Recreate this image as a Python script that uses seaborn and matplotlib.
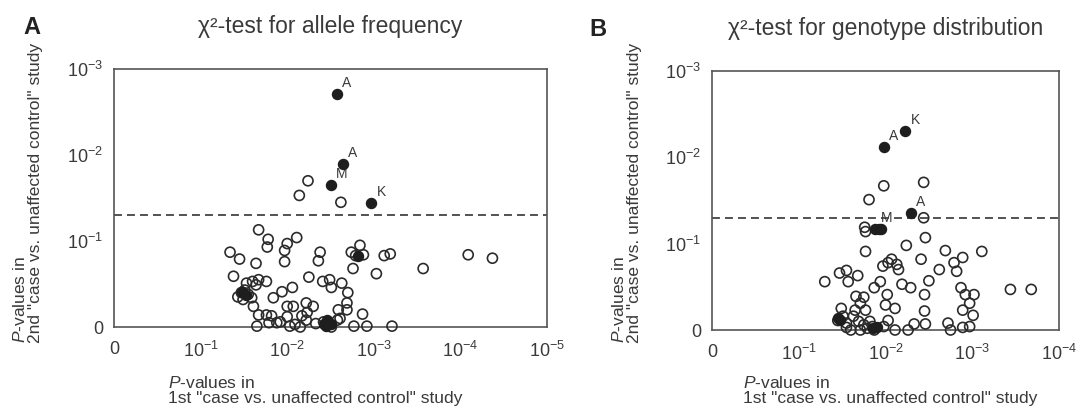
import numpy as np
import pandas as pd
import matplotlib
matplotlib.use('Agg')
import matplotlib.pyplot as plt
import seaborn as sns

sns.set_style('white')
plt.rcParams['font.family'] = ['Liberation Sans', 'DejaVu Sans']
plt.rcParams['mathtext.fontset'] = 'custom'
plt.rcParams['mathtext.rm'] = 'Liberation Sans'
plt.rcParams['mathtext.it'] = 'Liberation Sans:italic'
plt.rcParams['mathtext.bf'] = 'Liberation Sans:bold'

ink = '#3a3a3a'
line_col = '#555555'

# values are -log10(P): 0 = P of 1, 1 = 10^-1, ...
# panel A: allele frequency
a_open_x = [2.14, 2.24, 2.62,
            1.67, 1.78, 1.77, 2.00, 2.11, 1.97,
            1.34, 1.45, 1.64, 1.97,
            2.38, 2.36, 2.74, 2.84, 2.79, 2.88, 2.76,
            3.12, 3.19, 3.03, 3.57, 4.09, 4.37,
            1.38, 2.25,
            2.41, 2.49, 2.51, 2.63, 2.70, 2.69, 2.69, 2.59, 2.61, 2.87,
            2.77, 2.92, 3.21,
            1.53, 1.60, 1.67, 1.76, 1.64,
            1.43, 1.47, 1.51, 1.55, 1.49, 1.59,
            1.61, 1.67, 1.65, 1.76, 1.82,
            1.84, 1.94, 2.06,
            2.00, 2.07, 2.22, 2.30, 2.17, 2.00, 2.23,
            1.92, 1.79, 1.88, 2.03, 2.15, 2.22, 2.33, 2.42, 2.58, 2.51, 2.09]
a_open_y = [1.53, 1.70, 1.45,
            1.13, 1.02, 0.93, 0.97, 1.04, 0.89,
            0.87, 0.79, 0.74, 0.76,
            0.87, 0.77, 0.87, 0.95, 0.83, 0.84, 0.68,
            0.83, 0.85, 0.62, 0.68, 0.84, 0.80,
            0.59, 0.58,
            0.53, 0.55, 0.46, 0.51, 0.40, 0.28, 0.20, 0.20, 0.10, 0.15,
            0.01, 0.01, 0.01,
            0.51, 0.53, 0.55, 0.53, 0.49,
            0.35, 0.40, 0.43, 0.38, 0.32, 0.34,
            0.24, 0.14, 0.01, 0.14, 0.13,
            0.34, 0.41, 0.46,
            0.24, 0.24, 0.28, 0.24, 0.13, 0.12, 0.17,
            0.06, 0.05, 0.05, 0.01, 0.00, 0.08, 0.04, 0.06, 0.08, 0.00, 0.03]
a_fill_x = [2.42, 2.46, 2.50, 2.45, 1.48, 1.52, 2.82]
a_fill_y = [0.04, 0.08, 0.03, 0.01, 0.41, 0.37, 0.82]
a_lab_x = [2.57, 2.64, 2.50, 2.97]
a_lab_y = [2.71, 1.89, 1.65, 1.44]
a_lab = ['A', 'A', 'M', 'K']

# panel B: genotype distribution
b_open_x = [1.98, 2.44, 1.81, 2.44, 1.77, 1.76,
            2.46, 2.24, 1.77, 2.69, 3.11, 2.41, 2.89, 2.79, 2.82, 2.62,
            2.07, 2.13, 1.97, 2.03, 2.15, 1.94, 1.87, 2.19, 2.29, 2.50,
            2.45, 2.87, 2.92, 3.02, 2.97, 2.89, 3.01, 2.45, 2.46, 2.33,
            2.72, 2.75, 2.89, 2.97,
            3.44, 3.68,
            1.30, 1.47, 1.55, 1.57, 1.68,
            2.02, 2.00, 2.11, 2.03, 2.11, 2.26, 1.98,
            1.49, 1.51, 1.45, 1.55, 1.55, 1.66, 1.75, 1.71, 1.77, 1.65,
            1.63, 1.69, 1.75, 1.71, 1.79, 1.85, 1.87, 1.82, 1.60]
b_open_y = [1.67, 1.71, 1.51, 1.30, 1.14, 1.19,
            1.07, 0.98, 0.91, 0.92, 0.91, 0.82, 0.84, 0.78, 0.68, 0.70,
            0.82, 0.76, 0.74, 0.78, 0.70, 0.56, 0.49, 0.53, 0.49, 0.57,
            0.41, 0.49, 0.41, 0.41, 0.31, 0.23, 0.17, 0.22, 0.07, 0.07,
            0.08, 0.00, 0.03, 0.04,
            0.47, 0.47,
            0.56, 0.66, 0.69, 0.56, 0.63,
            0.41, 0.29, 0.25, 0.11, 0.00, 0.00, 0.04,
            0.25, 0.16, 0.11, 0.08, 0.03, 0.39, 0.38, 0.31, 0.23, 0.23,
            0.16, 0.10, 0.06, 0.00, 0.02, 0.04, 0.00, 0.10, 0.00]
b_fill_x = [1.92, 1.95, 1.45, 1.48, 1.86, 1.90]
b_fill_y = [1.17, 1.17, 0.14, 0.12, 0.02, 0.03]
b_lab_x = [1.98, 2.23, 2.29, 1.88]
b_lab_y = [2.12, 2.30, 1.35, 1.17]
b_lab = ['A', 'K', 'A', 'M']

p_cut = 0.05
a_ticks = ['0', '10$^{-1}$', '10$^{-2}$', '10$^{-3}$', '10$^{-4}$', '10$^{-5}$']
b_ticks = ['0', '10$^{-1}$', '10$^{-2}$', '10$^{-3}$', '10$^{-4}$']
y_ticks = ['0', '10$^{-1}$', '10$^{-2}$', '10$^{-3}$']

ylab = '$\\it{P}$-values in\n2nd "case vs. unaffected control" study'
xlab = '$\\it{P}$-values in\n1st "case vs. unaffected control" study'

fig = plt.figure(figsize=(10.84, 4.11), dpi=100)
W, H = 1084, 411

panels = [
    dict(box=(114, 69, 547, 327), ox=a_open_x, oy=a_open_y, fx=a_fill_x, fy=a_fill_y,
         lx=a_lab_x, ly=a_lab_y, lt=a_lab, xt=a_ticks, letter='A', lpos=(32, 28),
         title='χ²-test for allele frequency', ylx=28, xlx=168),
    dict(box=(712, 71, 1059, 330), ox=b_open_x, oy=b_open_y, fx=b_fill_x, fy=b_fill_y,
         lx=b_lab_x, ly=b_lab_y, lt=b_lab, xt=b_ticks, letter='B', lpos=(598, 29),
         title='χ²-test for genotype distribution', ylx=626, xlx=743),
]

for p in panels:
    x0, y0, x1, y1 = p['box']
    ax = fig.add_axes([x0 / W, 1 - y1 / H, (x1 - x0) / W, (y1 - y0) / H])
    df_open = pd.DataFrame({'x': p['ox'], 'y': p['oy']})
    df_fill = pd.DataFrame({'x': p['fx'] + p['lx'], 'y': p['fy'] + p['ly']})
    sns.scatterplot(data=df_open, x='x', y='y', ax=ax, marker='o', s=52,
                    facecolor='none', edgecolor='#2b2b2b', linewidth=1.2, clip_on=False, zorder=3)
    sns.scatterplot(data=df_fill, x='x', y='y', ax=ax, marker='o', s=52,
                    color='#1e1e1e', edgecolor='#1e1e1e', linewidth=1.0, clip_on=False, zorder=4)
    for xx, yy, tt in zip(p['lx'], p['ly'], p['lt']):
        ax.annotate(tt, (xx, yy), xytext=(4, 3), textcoords='offset points',
                    ha='left', va='bottom', fontsize=10, color=ink)
    ax.axhline(-np.log10(p_cut), ls=(0, (4.4, 2.8)), color='#444444', lw=1.3, zorder=2)

    n = len(p['xt'])
    ax.set_xlim(0, n - 1)
    ax.set_ylim(0, 3)
    ax.set_xticks(range(n))
    ax.set_xticklabels(p['xt'])
    ax.set_yticks(range(4))
    ax.set_yticklabels(y_ticks)
    ax.set_xlabel('')
    ax.set_ylabel('')
    for s in ax.spines.values():
        s.set_visible(True)
        s.set_color(line_col)
        s.set_linewidth(1.2)
    ax.tick_params(axis='both', direction='out', length=5, width=1.2, color=line_col,
                   labelcolor=ink, labelsize=13)
    ax.tick_params(axis='x', pad=5)
    ax.tick_params(axis='y', pad=3)
    ax.set_title(p['title'], fontsize=16.5, color=ink, pad=26)

    fig.text(p['lpos'][0] / W, 1 - p['lpos'][1] / H, p['letter'], fontsize=17,
             weight='bold', color='#222222', ha='center', va='center')
    fig.text(p['ylx'] / W, 1 - 343 / H, ylab, rotation=90, ha='center', va='bottom',
             multialignment='left', fontsize=12.5, color=ink, linespacing=1.0)
    fig.text(p['xlx'] / W, 1 - 406 / H, xlab, ha='left', va='bottom',
             multialignment='left', fontsize=12.5, color=ink, linespacing=1.0)

fig.savefig('out.png', dpi=100, facecolor='white')
